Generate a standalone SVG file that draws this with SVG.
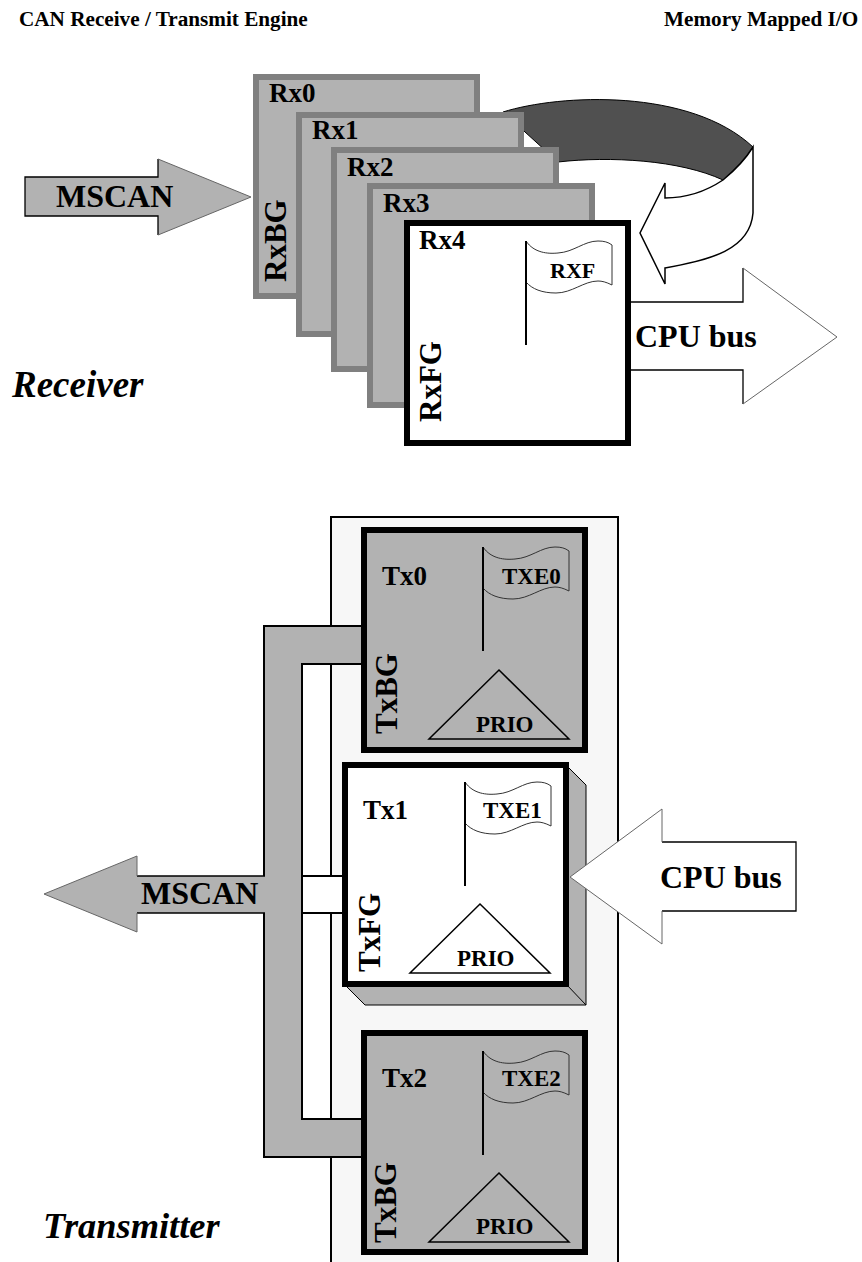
<svg xmlns="http://www.w3.org/2000/svg" width="862" height="1262" viewBox="0 0 862 1262">
<style>
text{font-family:"Liberation Serif","Times New Roman",serif;font-weight:bold;fill:#000}
.hd{font-size:21.2px}
.t27{font-size:27px}
.t31{font-size:31px}
.t32{font-size:32px}
.t23{font-size:23px}
.t22{font-size:22px}
.it{font-size:37px;font-style:italic}
.rxbox{fill:#b2b2b2;stroke:#808080;stroke-width:6}
.bk{stroke:#000;stroke-width:6}
.g{fill:#b2b2b2}
.w{fill:#fff}
.ln{fill:none;stroke:#000;stroke-width:2}
.thin{fill:none;stroke:#000;stroke-width:1.3}
.hair{fill:none;stroke:#666;stroke-width:1}
.flag{fill:none;stroke:#333;stroke-width:1}
.tri{fill:none;stroke:#000;stroke-width:1.5}
</style>
<defs>
<g id="flag">
<path class="flag" d="M0,0C8,12 22,13 32,12C48,11 58,0 72,0C78,0 82,1 86,4V44C80,41 76,40 72,40C58,40 46,52 30,52C16,52 6,48 0,41"/>
<path class="ln" d="M0,0V104"/>
</g>
<path id="tri" class="tri" d="M0,0L70,69H-70Z"/>
</defs>

<g id="headers">
<text class="hd" x="19" y="26">CAN Receive / Transmit Engine</text>
<text class="hd" x="664" y="26">Memory Mapped I/O</text>
</g>

<g id="txpanel"><rect x="331" y="517" width="287" height="750" fill="#f7f7f7" stroke="#000" stroke-width="2"/></g>

<g id="connectors">
<g id="loop">
<path fill="#505050" stroke="#000" stroke-width="1" d="M503,112C560,94 690,88 753,147C745,160 735,170 723,180C680,160 610,156 558,162Z"/>
<path fill="#fff" stroke="#000" stroke-width="1.5" d="M753,147V213C750,250 710,260 665,268V284L640,233L665,183V198C690,198 708,190 723,180C735,170 745,160 753,147Z"/>
</g>
<g id="rx-mscan">
<path class="g" d="M25,177H158V159L251,197L158,235V216H25Z"/>
<path class="thin" d="M158,159V177H25V216H158V235"/>
<path class="hair" d="M158,159L251,197L158,235"/>
</g>
<g id="rx-cpu">
<path class="w" d="M631,302H743V268L837,337L743,404V370H631Z"/>
<path class="thin" d="M631,302H743V268M743,404V370H631"/>
<path class="hair" d="M743,268L837,337L743,404"/>
</g>
<g id="tx-bus">
<rect class="w" x="302" y="876" width="40" height="37"/>
<path class="g" d="M264,626H361V664H302V1119H361V1157H264Z"/>
<path class="ln" d="M361,626H264V876M264,913V1157H361M361,664H302V1119H361M302,876H342M302,913H342"/>
</g>
<g id="tx-mscan">
<path class="g" d="M44,894L137,856V876H266V913H137V932Z"/>
<path class="thin" d="M137,876H265M137,913H265"/>
<path class="hair" d="M137,876V856L44,894L137,932V913"/>
</g>
</g>

<g id="rx0"><rect class="rxbox" x="256" y="77" width="221" height="219"/>
<text class="t27" x="269" y="102">Rx0</text>
<text class="t31" transform="translate(286 282) rotate(-90)">RxBG</text></g>
<g id="rx1"><rect class="rxbox" x="299" y="115" width="222" height="219"/>
<text class="t27" x="312" y="139">Rx1</text></g>
<g id="rx2"><rect class="rxbox" x="334" y="150" width="222" height="219"/>
<text class="t27" x="347" y="176">Rx2</text></g>
<g id="rx3"><rect class="rxbox" x="370" y="186" width="222" height="219"/>
<text class="t27" x="383" y="212">Rx3</text></g>
<g id="rx4"><rect class="w bk" x="407" y="223" width="221" height="220"/>
<text class="t27" x="419" y="249">Rx4</text>
<text class="t31" transform="translate(441 422) rotate(-90)">RxFG</text>
<use href="#flag" x="526" y="241"/>
<text class="t22" x="550" y="278">RXF</text></g>

<g id="tx0"><rect class="g bk" x="364" y="530" width="221" height="220"/>
<text class="t27" x="382" y="585">Tx0</text>
<text class="t31" transform="translate(397 734) rotate(-90)">TxBG</text>
<use href="#flag" x="483" y="547"/>
<text class="t23" x="502" y="584">TXE0</text>
<use href="#tri" x="499" y="670"/>
<text class="t23" x="476" y="732">PRIO</text></g>

<g id="tx1">
<path class="g" stroke="#000" stroke-width="1" d="M566,765L586,785V1005H365L345,985Z"/>
<path class="ln" style="stroke-width:1" d="M566,984L586,1005"/>
<rect class="w bk" x="345" y="765" width="221" height="219"/>
<text class="t27" x="363" y="819">Tx1</text>
<text class="t31" transform="translate(380 972) rotate(-90)">TxFG</text>
<use href="#flag" x="465" y="782"/>
<text class="t23" x="483" y="818">TXE1</text>
<use href="#tri" x="480" y="904"/>
<text class="t23" x="457" y="966">PRIO</text></g>

<g id="tx2"><rect class="g bk" x="364" y="1033" width="221" height="219"/>
<text class="t27" x="382" y="1087">Tx2</text>
<text class="t31" transform="translate(396 1243) rotate(-90)">TxBG</text>
<use href="#flag" x="483" y="1051"/>
<text class="t23" x="502" y="1086">TXE2</text>
<use href="#tri" x="499" y="1173"/>
<text class="t23" x="476" y="1234">PRIO</text></g>

<g id="tx-cpu">
<path class="w" d="M570,877L662,809V842H796V911H662V944Z"/>
<path class="thin" d="M662,842H796V911H662"/>
<path class="hair" d="M662,842V809L570,877L662,944V911"/>
</g>

<g id="labels">
<text class="t32" x="56" y="207">MSCAN</text>
<text class="t32" x="635" y="347">CPU bus</text>
<text class="it" x="12" y="397">Receiver</text>
<text class="t32" x="141" y="904">MSCAN</text>
<text class="t32" x="660" y="888">CPU bus</text>
<text class="it" x="43" y="1238" style="font-size:36.4px">Transmitter</text>
</g>
</svg>
